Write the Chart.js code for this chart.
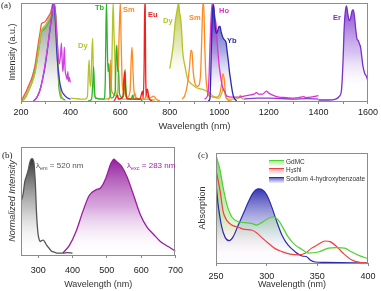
<!DOCTYPE html>
<html><head><meta charset="utf-8">
<script src="https://cdn.jsdelivr.net/npm/chart.js@4.4.1/dist/chart.umd.min.js"></script>
<style>
html,body{margin:0;padding:0;background:#fff;}
#wrap{position:relative;width:381px;height:291px;overflow:hidden;font-family:"Liberation Sans",Arial,sans-serif;background:#fff;}
canvas{position:absolute;}
.lab{position:absolute;font-weight:bold;font-size:7.5px;line-height:1;white-space:nowrap;}
.pl{position:absolute;font-family:"Liberation Serif","Times New Roman",serif;font-size:9px;line-height:1;color:#222;}
.ann{position:absolute;font-size:8px;line-height:1;white-space:nowrap;}
.ann sub{font-size:5.5px;vertical-align:-1.5px;}
.lg{position:absolute;font-size:6.5px;line-height:1;color:#333;white-space:nowrap;}
.lg sub{font-size:4.5px;vertical-align:-1px;}
.sw{position:absolute;width:15px;height:5px;}
</style></head>
<body>
<div id="wrap">
<canvas id="ca" width="381" height="135" style="left:0;top:0"></canvas>
<canvas id="cb" width="190" height="151" style="left:0;top:140px"></canvas>
<canvas id="cc" width="191" height="151" style="left:190px;top:140px"></canvas>

<div class="pl" style="left:1px;top:1px">(a)</div>
<div class="pl" style="left:2px;top:151px">(b)</div>
<div class="pl" style="left:198px;top:151px">(c)</div>

<div class="lab" style="left:95px;top:4px;color:#2bb52b">Tb</div>
<div class="lab" style="left:123px;top:6px;color:#ff8a20">Sm</div>
<div class="lab" style="left:78px;top:42px;color:#b5c22a">Dy</div>
<div class="lab" style="left:148px;top:11px;color:#f02020">Eu</div>
<div class="lab" style="left:163px;top:17px;color:#b5c22a">Dy</div>
<div class="lab" style="left:189px;top:14px;color:#ff8a20">Sm</div>
<div class="lab" style="left:219px;top:7px;color:#e030d0">Ho</div>
<div class="lab" style="left:227px;top:37px;color:#2a2aa8">Yb</div>
<div class="lab" style="left:333px;top:14px;color:#7a30c8">Er</div>

<div class="ann" style="left:36px;top:162px;color:#555">λ<sub>em</sub> = 520 nm</div>
<div class="ann" style="left:127px;top:162px;color:#a020a8">λ<sub>exc</sub> = 283 nm</div>

<div class="sw" style="left:269px;top:160px;border-top:1.5px solid #50d030;background:linear-gradient(#a8ee90,#f4fff0)"></div>
<div class="lg" style="left:286px;top:159px">GdMC</div>
<div class="sw" style="left:269px;top:168px;border-top:1.5px solid #f04040;background:linear-gradient(#f8b0b0,#fff4f4)"></div>
<div class="lg" style="left:286px;top:167px">H<sub>3</sub>shi</div>
<div class="sw" style="left:269px;top:177px;border-top:1.5px solid #2b2bb0;background:linear-gradient(#6a6ad0,#f0f0ff)"></div>
<div class="lg" style="left:286px;top:176px">Sodium 4-hydroxybenzoate</div>
</div>

<script>
// ---------- Panel (a) data: [wavelength nm, intensity] ----------
const aTicks = [200,300,400,500,600,700,800,900,1000,1100,1200,1300,1400,1500,1600];
const exGray = [[200,0.0],[210,0.03],[220,0.08],[230,0.14],[240,0.2],[250,0.29],[260,0.4],[270,0.55],[280,0.68],[290,0.75],[300,0.78],[310,0.83],[320,0.9],[328,0.98],[334,1.0],[340,0.88],[345,0.6],[350,0.3],[355,0.1],[362,0.02]];
const exRed = [[203,0.01],[213,0.06],[223,0.11],[233,0.17],[243,0.23],[256,0.35],[263,0.47],[270,0.59],[277,0.7],[283,0.79],[290,0.8],[297,0.81],[303,0.83],[310,0.86],[321,0.91],[328,0.99],[334,0.98],[340,0.86],[347,0.52],[353,0.21],[358,0.09],[364,0.04],[375,0.01]];
const exGreen = [[200,0.0],[213,0.02],[223,0.06],[233,0.12],[243,0.18],[256,0.3],[270,0.5],[283,0.7],[297,0.74],[310,0.8],[321,0.85],[330,0.95],[335,0.97],[340,0.82],[347,0.45],[353,0.15],[360,0.05],[370,0.02],[380,0.01]];
const exOlive = [[205,0.0],[220,0.05],[240,0.16],[256,0.28],[270,0.5],[283,0.72],[297,0.76],[310,0.82],[322,0.88],[331,0.96],[336,0.98],[341,0.85],[348,0.5],[354,0.2],[362,0.06],[372,0.02]];
const exMag = [[250,0.0],[265,0.04],[280,0.14],[295,0.34],[310,0.6],[322,0.85],[330,0.96],[335,0.99],[341,0.82],[348,0.55],[354,0.38],[359,0.45],[363,0.59],[366,0.42],[369,0.3],[372,0.4],[375,0.55],[378,0.32],[382,0.26],[386,0.22],[389,0.3],[392,0.2],[395,0.24],[398,0.2],[400,0.19]];
const exBlue = [[250,0.0],[262,0.03],[275,0.1],[287,0.22],[297,0.35],[310,0.59],[318,0.75],[324,0.86],[330,0.99],[334,0.97],[339,0.8],[344,0.52],[350,0.32],[357,0.18],[365,0.1],[375,0.06],[388,0.03],[400,0.02]];
const dyVis = [[400,0.03],[420,0.025],[440,0.02],[460,0.02],[468,0.05],[472,0.3],[475,0.42],[478,0.2],[482,0.15],[486,0.5],[489,0.64],[492,0.3],[496,0.05],[520,0.02],[560,0.03],[566,0.3],[570,0.85],[572,1.0],[575,0.7],[578,0.5],[582,0.1],[600,0.02],[650,0.03],[660,0.08],[665,0.03],[700,0.02],[740,0.01]];
const tbVis = [[470,0.0],[485,0.02],[490,0.2],[493,0.35],[496,0.15],[500,0.03],[535,0.02],[540,0.2],[543,0.8],[545,1.0],[548,0.6],[551,0.3],[555,0.38],[558,0.15],[565,0.03],[580,0.1],[584,0.5],[587,0.57],[590,0.3],[594,0.32],[597,0.08],[610,0.03],[617,0.2],[620,0.32],[623,0.15],[628,0.03],[645,0.02],[650,0.06],[655,0.02],[680,0.02],[690,0.0]];
const smVis = [[550,0.01],[558,0.05],[562,0.42],[566,0.1],[590,0.05],[595,0.6],[598,0.85],[601,1.0],[604,0.6],[608,0.2],[612,0.1],[615,0.22],[618,0.08],[630,0.04],[640,0.1],[645,0.45],[648,0.55],[652,0.3],[656,0.1],[665,0.03],[700,0.02],[705,0.07],[710,0.03],[715,0.06],[720,0.03],[735,0.05],[745,0.02],[760,0.0]];
const euVis = [[575,0.0],[580,0.02],[590,0.06],[593,0.02],[612,0.05],[616,0.25],[619,0.3],[622,0.1],[630,0.02],[650,0.02],[680,0.02],[687,0.08],[690,0.1],[693,0.03],[697,0.4],[699,1.0],[701,1.0],[703,0.3],[706,0.06],[709,0.12],[712,0.1],[716,0.03],[730,0.0]];
const dyNir = [[800,0.33],[808,0.45],[815,0.59],[822,0.8],[828,0.9],[832,0.96],[836,1.0],[840,0.9],[844,0.85],[848,0.72],[852,0.52],[858,0.4],[862,0.35],[868,0.27],[875,0.21],[885,0.18],[895,0.16],[905,0.14],[915,0.13],[930,0.12],[942,0.11],[955,0.09],[962,0.08],[975,0.05],[990,0.03],[1000,0.03],[1010,0.08],[1018,0.13],[1024,0.06],[1035,0.02],[1060,0.02],[1080,0.03],[1085,0.06],[1090,0.03],[1100,0.02]];
const smNir = [[850,0.02],[860,0.05],[870,0.15],[880,0.35],[886,0.52],[890,0.5],[895,0.3],[900,0.2],[910,0.15],[918,0.16],[925,0.3],[930,0.7],[934,1.0],[937,1.0],[941,0.6],[946,0.25],[952,0.1],[960,0.05],[975,0.04],[990,0.04],[1000,0.06],[1008,0.15],[1015,0.28],[1020,0.22],[1026,0.05],[1035,0.01],[1050,0.0]];
const hoNir = [[940,0.02],[952,0.05],[958,0.2],[963,0.6],[968,0.9],[972,1.0],[976,0.98],[982,0.85],[987,0.78],[992,0.59],[1000,0.35],[1010,0.18],[1016,0.12],[1023,0.09],[1030,0.05],[1050,0.04],[1080,0.04],[1100,0.05],[1120,0.06],[1140,0.07],[1150,0.085],[1160,0.07],[1175,0.07],[1190,0.1],[1200,0.08],[1215,0.06],[1240,0.04],[1270,0.035],[1300,0.03],[1320,0.035],[1340,0.045],[1350,0.035],[1370,0.04],[1390,0.05],[1400,0.055]];
const ybNir = [[955,0.0],[962,0.02],[966,0.3],[970,0.75],[974,0.95],[977,0.98],[981,0.85],[985,0.72],[989,0.69],[994,0.72],[999,0.76],[1003,0.76],[1008,0.7],[1016,0.64],[1022,0.62],[1027,0.6],[1032,0.5],[1036,0.42],[1041,0.3],[1046,0.21],[1050,0.14],[1054,0.08],[1058,0.04],[1063,0.02],[1070,0.0]];
const erLow = [[1100,0.02],[1150,0.03],[1200,0.03],[1250,0.025],[1300,0.02],[1350,0.025],[1400,0.02]];
const erNir = [[1400,0.01],[1440,0.01],[1470,0.02],[1485,0.05],[1493,0.11],[1500,0.45],[1503,0.69],[1508,0.9],[1513,0.97],[1518,0.9],[1524,0.82],[1530,0.85],[1536,0.92],[1541,0.93],[1546,0.85],[1551,0.72],[1556,0.63],[1560,0.62],[1566,0.58],[1570,0.55],[1575,0.45],[1580,0.35],[1587,0.28],[1594,0.25],[1600,0.2]];

// ---------- Panel (b) data ----------
const bTicks = [300,400,500,600,700];
const bExc = [[250,0.55],[256,0.63],[261,0.76],[266,0.82],[271,0.88],[275,0.95],[278,0.985],[282,1.0],[285,0.99],[288,0.95],[290,0.85],[292,0.73],[295,0.45],[298,0.28],[300,0.21],[303,0.16],[306,0.14],[310,0.15],[315,0.155],[320,0.13],[325,0.10],[332,0.07],[339,0.04],[347,0.03],[354,0.02],[373,0.02],[385,0.025],[400,0.02]];
const bEm = [[372,0.02],[391,0.10],[410,0.24],[430,0.45],[449,0.62],[468,0.675],[483,0.70],[497,0.795],[512,0.95],[521,0.995],[525,0.98],[535,0.95],[544,0.915],[559,0.81],[578,0.62],[598,0.415],[617,0.29],[636,0.215],[656,0.14],[680,0.085],[700,0.04]];

// ---------- Panel (c) data ----------
const cTicks = [250,300,350,400];
const cGdMC = [[250,0.98],[254,0.845],[257,0.69],[260.5,0.54],[265.5,0.42],[272,0.375],[278.6,0.367],[285,0.36],[290,0.345],[295,0.367],[301.6,0.405],[306.5,0.42],[311.5,0.39],[316.4,0.315],[321,0.24],[328,0.165],[334.6,0.125],[341,0.09],[351,0.10],[361,0.135],[369,0.14],[377,0.135],[384,0.10],[392,0.065],[400,0.04]];
const cH3shi = [[250,0.845],[254,0.66],[257,0.47],[260.5,0.39],[265.5,0.345],[272,0.325],[278.6,0.305],[285,0.30],[290,0.275],[295,0.233],[301.6,0.18],[308,0.133],[315,0.103],[323,0.08],[331,0.073],[338,0.088],[344,0.133],[351,0.17],[357.6,0.2],[362.5,0.194],[369,0.15],[375.6,0.088],[384,0.027],[394,0.003],[400,0.0]];
const cSodium = [[250,0.725],[252,0.54],[255.6,0.33],[259,0.233],[263,0.203],[267,0.24],[272,0.345],[277,0.45],[282,0.557],[286.8,0.64],[291.7,0.675],[295,0.67],[300,0.62],[305,0.51],[310,0.375],[315,0.255],[321,0.164],[328,0.103],[335,0.064],[339.5,0.057],[343,0.027],[348,0.009],[358,0.005],[400,0.0]];

// ---------- helpers ----------
const FONT = '"Liberation Sans", Arial, sans-serif';
const pts = a => a.map(p => ({x:p[0], y:p[1]}));
function vgrad(stops){
  return (ctx) => {
    const ch = ctx.chart, ys = ch.scales.y;
    if (!ch.chartArea || !ys) return 'rgba(0,0,0,0)';
    const p0 = ys.getPixelForValue(stops[0][0]);
    const p1 = ys.getPixelForValue(stops[stops.length-1][0]);
    const g = ch.ctx.createLinearGradient(0, p0, 0, p1);
    stops.forEach(s => {
      const o = Math.min(1, Math.max(0, (ys.getPixelForValue(s[0]) - p0) / (p1 - p0)));
      g.addColorStop(o, s[1]);
    });
    return g;
  };
}
function ln(data, color, extra){
  return Object.assign({data: pts(data), borderColor: color, borderWidth: 1.3, pointRadius: 0,
    fill: false, cubicInterpolationMode: 'monotone'}, extra || {});
}
const frame = { id:'frame', afterDatasetsDraw(c){
  const a = c.chartArea, x = c.ctx; x.save(); x.strokeStyle = '#8c8c8c'; x.lineWidth = 1;
  x.strokeRect(Math.round(a.left)+0.5, Math.round(a.top)+0.5, Math.round(a.right-a.left)-1, Math.round(a.bottom-a.top));
  x.restore(); } };

function xScale(min, max, ticks, labelFn, padTick, titleSize, titlePadB, h){
  return { type:'linear', min, max,
    afterBuildTicks: s => { s.ticks = ticks.map(v => ({value:v})); },
    afterFit: s => { s.height = h; },
    ticks:{ autoSkip:false, maxRotation:0, padding:padTick, color:'#222', font:{family:FONT, size:9}, callback: labelFn },
    grid:{ display:true, drawOnChartArea:false, drawTicks:true, tickLength:3, color:'#888' },
    border:{ display:false },
    title:{ display:true, text:'Wavelength (nm)', color:'#333', font:{family:FONT, size:titleSize}, padding:{top:0, bottom:titlePadB} } };
}
function yScale(min, max, text, w, padT, italic){
  return { min, max, afterFit: s => { s.width = w; },
    ticks:{ display:false }, grid:{ display:false }, border:{ display:false },
    title:{ display:true, text, color:'#333', font:{family:FONT, size:9, style: italic ? 'italic' : 'normal'}, padding:{top:padT, bottom:0} } };
}
const common = { responsive:false, animation:false, devicePixelRatio:1,
  plugins:{ legend:{display:false}, tooltip:{enabled:false}, filler:{drawTime:'beforeDatasetsDraw'} } };

// ---------- Chart (a) ----------
new Chart(document.getElementById('ca'), {
  type:'line',
  data:{ datasets:[
    ln(euVis, '#f02020'),
    ln(tbVis, '#2bb52b'),
    ln(smVis, '#ff8a20'),
    ln(dyVis, '#b5c22a'),
    ln(ybNir, '#2a2ab0', {fill:'origin', backgroundColor: vgrad([[0.95,'rgba(42,42,176,0.95)'],[0.5,'rgba(120,120,210,0.6)'],[0.05,'rgba(255,255,255,0)']])}),
    ln(hoNir, '#e030d0', {fill:'origin', backgroundColor: vgrad([[1.0,'rgba(224,48,208,0.95)'],[0.5,'rgba(235,140,230,0.5)'],[0.05,'rgba(255,255,255,0)']])}),
    ln(smNir, '#ff8a20'),
    ln(dyNir, '#b5c22a', {fill:'origin', backgroundColor: vgrad([[1.0,'rgba(181,194,42,0.95)'],[0.55,'rgba(215,222,150,0.6)'],[0.2,'rgba(255,255,255,0)']])}),
    ln(erLow, '#8a3ad8'),
    ln(erNir, '#7a30c8', {fill:'origin', backgroundColor: vgrad([[1.0,'rgba(122,48,200,0.95)'],[0.5,'rgba(180,140,230,0.55)'],[0.1,'rgba(255,255,255,0)']])}),
    ln(exMag, '#d040e0'),
    ln(exBlue, '#3a3ad0'),
    ln(exOlive, '#b5c22a'),
    ln(exGreen, '#40c040'),
    ln(exRed, '#f06040'),
    ln(exGray, '#b8b8b8', {fill:'origin', backgroundColor: vgrad([[1.0,'rgba(110,110,110,0.9)'],[0.4,'rgba(190,190,190,0.55)'],[0.0,'rgba(255,255,255,0)']])})
  ]},
  options: Object.assign({}, common, {
    layout:{ padding:{ top:3, right:13, left:0, bottom:0 } },
    scales:{
      x: xScale(200, 1600, aTicks, v => (v % 200 === 0 ? String(v) : ''), 3, 9.5, 3, 34),
      y: yScale(0, 1.0, 'Intensity (a.u.)', 21, 7.5, false)
    }
  }),
  plugins:[frame]
});

// ---------- Chart (b) ----------
new Chart(document.getElementById('cb'), {
  type:'line',
  data:{ datasets:[
    ln(bEm, '#9a1e9e', {fill:'origin', backgroundColor: vgrad([[1.0,'rgba(140,20,150,0.95)'],[0.5,'rgba(190,110,200,0.6)'],[0.0,'rgba(255,255,255,0)']])}),
    ln(bExc, '#555555', {fill:'origin', backgroundColor: vgrad([[1.0,'rgba(40,40,40,0.95)'],[0.5,'rgba(150,150,150,0.6)'],[0.0,'rgba(255,255,255,0)']])})
  ]},
  options: Object.assign({}, common, {
    layout:{ padding:{ top:7, right:13, left:0, bottom:0 } },
    scales:{
      x: xScale(250, 700, bTicks, v => String(v), 7, 9, 0.6, 36),
      y: yScale(0, 1.12, 'Normalized Intensity', 21, 7, true)
    }
  }),
  plugins:[frame]
});

// ---------- Chart (c) ----------
new Chart(document.getElementById('cc'), {
  type:'line',
  data:{ datasets:[
    ln(cGdMC, '#50d030', {borderWidth:1.2, fill:'origin', backgroundColor: vgrad([[0.9,'rgba(90,210,60,0.75)'],[0.4,'rgba(170,235,150,0.5)'],[0.1,'rgba(255,255,255,0)']])}),
    ln(cH3shi, '#f04040', {borderWidth:1.2, fill:'origin', backgroundColor: vgrad([[0.8,'rgba(240,80,80,0.35)'],[0.3,'rgba(250,190,190,0.3)'],[0.0,'rgba(255,255,255,0)']])}),
    ln(cSodium, '#2b2bb0', {borderWidth:1.2, fill:'origin', backgroundColor: vgrad([[0.68,'rgba(40,40,170,0.95)'],[0.35,'rgba(150,150,220,0.55)'],[0.1,'rgba(240,240,255,0.2)']])})
  ]},
  options: Object.assign({}, common, {
    layout:{ padding:{ top:13, right:13, left:0, bottom:0 } },
    scales:{
      x: xScale(250, 400, cTicks, v => String(v), 5, 9, 0.6, 28),
      y: yScale(0, 1.0, 'Absorption', 26, 7.6, false)
    }
  }),
  plugins:[frame]
});
</script>
</body></html>
